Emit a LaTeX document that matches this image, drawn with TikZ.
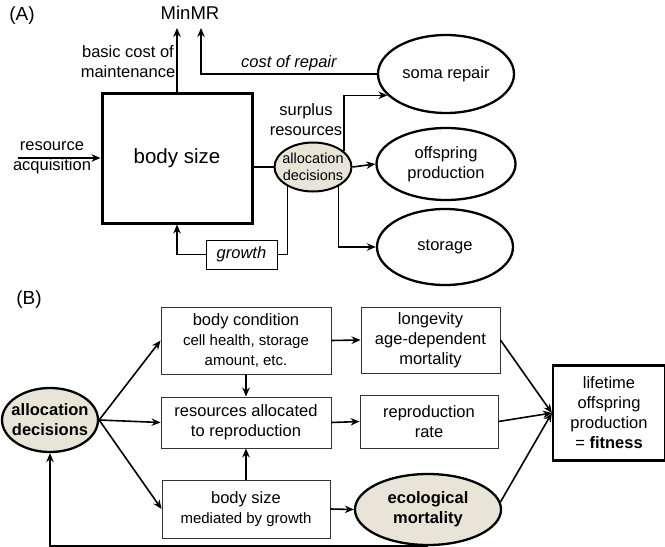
\documentclass[tikz,border=0pt]{standalone}
\usepackage{fontspec}
\setmainfont{Liberation Sans}
\usetikzlibrary{shapes,shapes.geometric,arrows,arrows.meta,calc,positioning}
\definecolor{beige}{RGB}{232,229,216}
\tikzstyle{bx}=[draw, rectangle, inner sep=0pt, align=center]
\tikzstyle{el}=[draw, ellipse, inner sep=0pt, align=center, line width=2.3pt]
\tikzstyle{bxb}=[bx, draw=black!80, line width=0.9pt]
\tikzstyle{lbl}=[align=center, inner sep=0pt]
\newcommand{\subtxt}[1]{{\fontsize{15}{18}\selectfont #1}}

\begin{document}
\begin{tikzpicture}[x=1pt, y=-1pt, >={Stealth[length=9pt,width=7.5pt]}, line width=1.6pt, font=\fontsize{16.5}{20}\selectfont]
\useasboundingbox (0,0) rectangle (665,547);
% (A)
\node[lbl, font=\fontsize{19}{22}\selectfont] (A) at (22,16) {(A)};
\node[lbl, font=\fontsize{18.5}{22}\selectfont] (minmr) at (190,13) {MinMR};
\node[bx, line width=3pt, minimum width=150pt, minimum height=130pt, font=\fontsize{20.5}{24}\selectfont] (body) at (177,158) {body size};
\node[el, fill=beige, line width=2pt, inner xsep=-4pt, minimum width=77pt, minimum height=49pt, font=\fontsize{14.5}{17.5}\selectfont] (alloc) at (313,167) {allocation\\decisions};
\node[bx, line width=0.9pt, minimum width=71pt, minimum height=29pt] (growth) at (241.5,254.5) {\itshape growth};
\node[el, minimum width=136pt, minimum height=78pt] (soma) at (446,74) {soma repair};
\node[el, minimum width=139pt, minimum height=72pt] (offs) at (446,164) {offspring\\production};
\node[el, minimum width=136pt, minimum height=76pt] (stor) at (445,247) {storage};
\node[lbl] (maint) at (128,62) {basic cost of\\maintenance};
\node[lbl] (acq) at (52,158) {resource\\acquisition};
\node[lbl] (surplus) at (306,120) {surplus\\resources};
\coordinate (tip1) at (177,28);
\coordinate (tip2) at (201,28);
\coordinate (inflow) at (18,158);

\draw[->] (body.north) -- (tip1);
\draw[->, line width=1.1pt] (soma.west) -- node[above, inner sep=3pt] {\itshape cost of repair} (soma.west -| tip2) -- (tip2);
\draw[->, line width=1.1pt] (inflow) -- (body.west);
\draw (alloc.west) -- (alloc.west -| body.east);
\draw (alloc.217) |- (growth.east);
\draw[->] (growth.west) -| (body.south);
\draw[->] (alloc.27) |- (soma.200);
\draw[->] (alloc.east) -- (offs.west);
\draw[->] (alloc.-37) |- (stor.west);

% (B)
\node[lbl, font=\fontsize{19}{22}\selectfont] (B) at (29,300) {(B)};
\node[el, fill=beige, inner xsep=-5pt, minimum width=96pt, minimum height=64pt] (allocB) at (50,420) {\bfseries allocation\\\bfseries decisions};
\node[bxb, minimum width=170pt, minimum height=67pt] (cond) at (246,340.5) {body condition\\\subtxt{cell health, storage}\\\subtxt{amount, etc.}};
\node[bxb, minimum width=170pt, minimum height=51pt] (res) at (246,422.5) {resources allocated\\to reproduction};
\node[bxb, minimum width=168pt, minimum height=58pt] (bsize) at (246,509) {body size\\\subtxt{mediated by growth}};
\node[bxb, minimum width=139pt, minimum height=66pt] (longev) at (430.5,340) {longevity\\age-dependent\\mortality};
\node[bxb, minimum width=138pt, minimum height=53pt] (repro) at (429,421.5) {reproduction\\rate};
\node[el, fill=beige, minimum width=146pt, minimum height=71pt] (ecol) at (428,509.5) {\bfseries ecological\\\bfseries mortality};
\node[bx, line width=2.2pt, minimum width=112pt, minimum height=95pt] (fit) at (609,413) {lifetime\\offspring\\production\\= \textbf{fitness}};

\path[->] (allocB.east) edge (cond.west)
	(allocB.east) edge (res.west)
	(allocB.east) edge (bsize.west)
	(cond.south) edge (res.north)
	(bsize.north) edge (res.south)
	(cond.east) edge (longev.west)
	(res.east) edge (repro.west)
	(bsize.east) edge (ecol.west)
	(longev.east) edge (fit.west)
	(repro.east) edge (fit.west)
	(ecol.6) edge (fit.west)
;
\draw[->] (ecol.south) -| (allocB.south);
\end{tikzpicture}
\end{document}
